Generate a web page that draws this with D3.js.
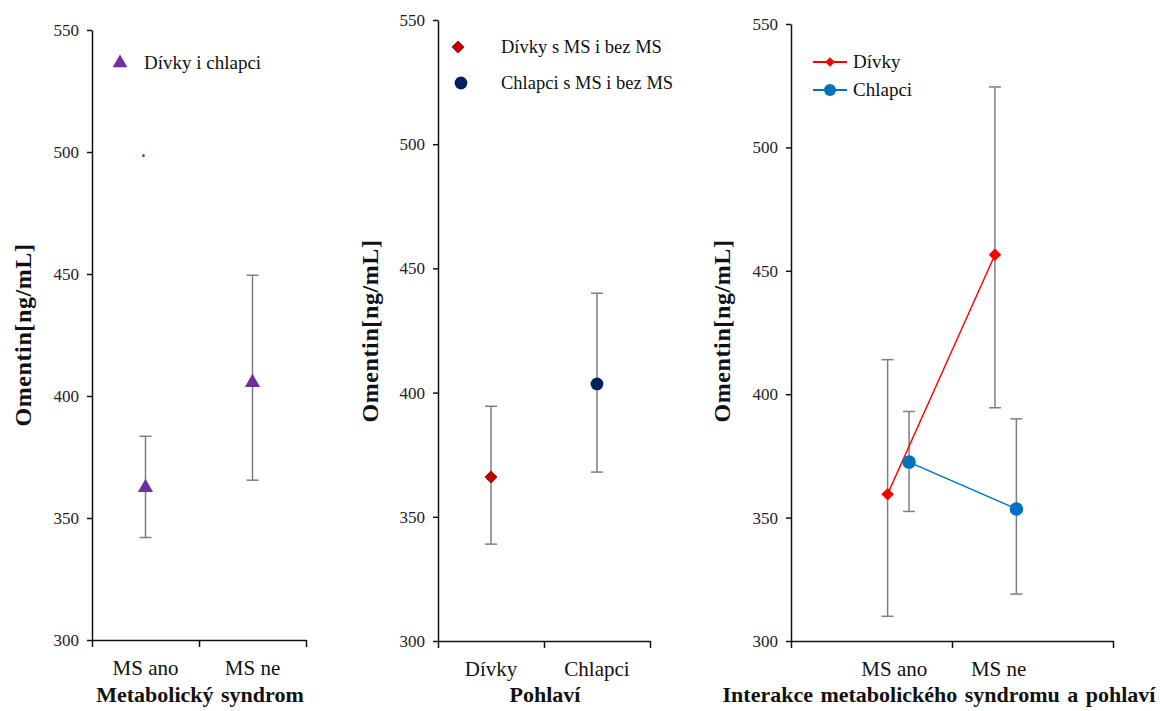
<!DOCTYPE html>
<html>
<head>
<meta charset="utf-8">
<title>Omentin</title>
<script src="https://cdn.jsdelivr.net/npm/d3@7"></script>
<style>
  body { margin: 0; background: #fff; }
  svg text { font-family: "Liberation Serif", "Times New Roman", serif; fill: #111; }
  .tick text { fill: #222; }
</style>
</head>
<body>
<svg id="chart" width="1160" height="711"></svg>
<script>
// shared y ticks
var yTicks = [300, 350, 400, 450, 500, 550];

// panel 1 - Metabolicky syndrom
var p1Categories = ["MS ano", "MS ne"];
var p1Means = [362.5, 405.5];
var p1Upper = [383.5, 449.5];
var p1Lower = [342, 365.5];
var p1Stray = [498.5]; // small stray point above MS ano

// panel 2 - Pohlavi
var p2Categories = ["Dívky", "Chlapci"];
var p2Means = [366, 403.5];
var p2Upper = [394.5, 440];
var p2Lower = [339, 368];

// panel 3 - interakce
var p3Categories = ["MS ano", "MS ne"];
var p3Girls = [359.5, 456.5];
var p3GirlsUpper = [414, 524.5];
var p3GirlsLower = [310, 394.5];
var p3Boys = [372.5, 353.5];
var p3BoysUpper = [393, 390];
var p3BoysLower = [352.5, 319];

var svg = d3.select("#chart");
var errColor = "#7f7f7f";

function panel(o) {
  var g = svg.append("g");
  var x = d3.scaleLinear().domain(o.xDomain).range([o.left, o.right]);
  var y = d3.scaleLinear().domain([300, 550]).range([o.bottom, o.top]);

  var ya = g.append("g").attr("transform", "translate(" + o.left + ",0)")
    .call(d3.axisLeft(y).tickValues(yTicks).tickSize(5).tickSizeOuter(0).tickPadding(8));
  ya.selectAll("text").style("font-size", "17px");
  g.append("g").attr("transform", "translate(0," + o.bottom + ")")
    .call(d3.axisBottom(x).tickValues(o.xTicks).tickFormat("").tickSize(7).tickSizeOuter(0));
  g.selectAll(".domain, .tick line").attr("stroke", "#111").attr("stroke-width", 1.5);

  // category labels
  g.selectAll(".cat").data(o.cats).enter().append("text")
    .attr("x", function(d, i) { return x(o.catPos[i]) + (o.labelShift ? o.labelShift[i] : 0); })
    .attr("y", o.bottom + 35)
    .attr("text-anchor", "middle")
    .style("font-size", "21px")
    .text(function(d) { return d; });

  g.append("text")
    .attr("x", o.titleX).attr("y", 702)
    .attr("text-anchor", "middle")
    .style("font-size", "22px").style("font-weight", "bold")
    .style("word-spacing", "2px")
    .text(o.title);

  g.append("text")
    .attr("transform", "translate(" + o.ylabX + "," + o.ylabY + ") rotate(-90)")
    .attr("text-anchor", "middle").attr("dy", "0.35em")
    .style("font-size", "24px").style("font-weight", "bold")
    .style("letter-spacing", "0.6px")
    .text("Omentin[ng/mL]");
  return { g: g, x: x, y: y };
}

function errorBars(g, xs, ys, lo, hi) {
  var cap = 6;
  xs.forEach(function(xv, i) {
    var e = g.append("g").attr("stroke", errColor).attr("stroke-width", 1.5);
    e.append("line").attr("x1", xv).attr("x2", xv).attr("y1", ys(lo[i])).attr("y2", ys(hi[i]));
    e.append("line").attr("x1", xv - cap).attr("x2", xv + cap).attr("y1", ys(lo[i])).attr("y2", ys(lo[i]));
    e.append("line").attr("x1", xv - cap).attr("x2", xv + cap).attr("y1", ys(hi[i])).attr("y2", ys(hi[i]));
  });
}

// ---------- panel 1
var P1 = panel({ left: 92, right: 306, top: 30, bottom: 640, xDomain: [0, 2], xTicks: [0, 1, 2],
  cats: p1Categories, catPos: [0.5, 1.5], title: "Metabolický syndrom", titleX: 200,
  ylabX: 23, ylabY: 335 });
var p1x = p1Categories.map(function(d, i) { return P1.x(i + 0.5); });
errorBars(P1.g, p1x, P1.y, p1Lower, p1Upper);
P1.g.selectAll(".tri").data(p1Means).enter().append("path")
  .attr("d", d3.symbol().type(d3.symbolTriangle).size(100))
  .attr("transform", function(d, i) { return "translate(" + p1x[i] + "," + P1.y(d) + ")"; })
  .attr("fill", "#7030a0");
P1.g.selectAll(".stray").data(p1Stray).enter().append("circle")
  .attr("cx", p1x[0] - 2).attr("cy", function(d) { return P1.y(d); })
  .attr("r", 1.3).attr("fill", "#2b2bff");
P1.g.append("path").attr("d", d3.symbol().type(d3.symbolTriangle).size(95))
  .attr("transform", "translate(120,63)").attr("fill", "#7030a0");
P1.g.append("text").attr("x", 144).attr("y", 69).style("font-size", "19px").text("Dívky i chlapci");

// ---------- panel 2
var P2 = panel({ left: 438, right: 650, top: 20, bottom: 641, xDomain: [0, 2], xTicks: [0, 1, 2],
  cats: p2Categories, catPos: [0.5, 1.5], title: "Pohlaví", titleX: 545,
  ylabX: 370, ylabY: 331 });
var p2x = p2Categories.map(function(d, i) { return P2.x(i + 0.5); });
errorBars(P2.g, p2x, P2.y, p2Lower, p2Upper);
P2.g.append("path").attr("d", d3.symbol().type(d3.symbolDiamond2).size(95))
  .attr("transform", "translate(" + p2x[0] + "," + P2.y(p2Means[0]) + ")")
  .attr("fill", "#c00000").attr("stroke", "#8b0000").attr("stroke-width", 0.8);
P2.g.append("circle").attr("cx", p2x[1]).attr("cy", P2.y(p2Means[1])).attr("r", 6.4).attr("fill", "#002060");
P2.g.append("path").attr("d", d3.symbol().type(d3.symbolDiamond2).size(95))
  .attr("transform", "translate(458,47)")
  .attr("fill", "#c00000").attr("stroke", "#8b0000").attr("stroke-width", 0.8);
P2.g.append("circle").attr("cx", 461).attr("cy", 83).attr("r", 6.4).attr("fill", "#002060");
P2.g.append("text").attr("x", 501).attr("y", 53).style("font-size", "18.5px").text("Dívky s MS i bez MS");
P2.g.append("text").attr("x", 501).attr("y", 89).style("font-size", "18.5px").text("Chlapci s MS i bez MS");

// ---------- panel 3
var P3 = panel({ left: 791, right: 1113, top: 24, bottom: 641, xDomain: [0, 3], xTicks: [0, 1.5, 3],
  cats: p3Categories, catPos: [1, 2], labelShift: [-4, -7], title: "Interakce metabolického syndromu a pohlaví",
  titleX: 939, ylabX: 722, ylabY: 331 });
var gx = p3Categories.map(function(d, i) { return P3.x(i + 1 - 0.1); });
var bx = p3Categories.map(function(d, i) { return P3.x(i + 1 + 0.1); });
errorBars(P3.g, gx, P3.y, p3GirlsLower, p3GirlsUpper);
errorBars(P3.g, bx, P3.y, p3BoysLower, p3BoysUpper);
var line = d3.line();
P3.g.append("path").datum(p3Girls.map(function(d, i) { return [gx[i], P3.y(d)]; }))
  .attr("d", line).attr("fill", "none").attr("stroke", "#ff0000").attr("stroke-width", 1.4);
P3.g.append("path").datum(p3Boys.map(function(d, i) { return [bx[i], P3.y(d)]; }))
  .attr("d", line).attr("fill", "none").attr("stroke", "#0070c0").attr("stroke-width", 1.4);
P3.g.selectAll(".gd").data(p3Girls).enter().append("path")
  .attr("d", d3.symbol().type(d3.symbolDiamond2).size(100))
  .attr("transform", function(d, i) { return "translate(" + gx[i] + "," + P3.y(d) + ")"; })
  .attr("fill", "#ff0000");
P3.g.selectAll(".bd").data(p3Boys).enter().append("circle")
  .attr("cx", function(d, i) { return bx[i]; }).attr("cy", function(d) { return P3.y(d); })
  .attr("r", 6.8).attr("fill", "#0070c0");
// legend
P3.g.append("line").attr("x1", 813).attr("x2", 847).attr("y1", 62).attr("y2", 62).attr("stroke", "#ff0000").attr("stroke-width", 2);
P3.g.append("path").attr("d", d3.symbol().type(d3.symbolDiamond2).size(60))
  .attr("transform", "translate(830,62)").attr("fill", "#ff0000");
P3.g.append("line").attr("x1", 813).attr("x2", 847).attr("y1", 90).attr("y2", 90).attr("stroke", "#0070c0").attr("stroke-width", 2);
P3.g.append("circle").attr("cx", 830).attr("cy", 90).attr("r", 6).attr("fill", "#0070c0");
P3.g.append("text").attr("x", 853).attr("y", 68).style("font-size", "19px").text("Dívky");
P3.g.append("text").attr("x", 853).attr("y", 96).style("font-size", "19px").text("Chlapci");
</script>
</body>
</html>
